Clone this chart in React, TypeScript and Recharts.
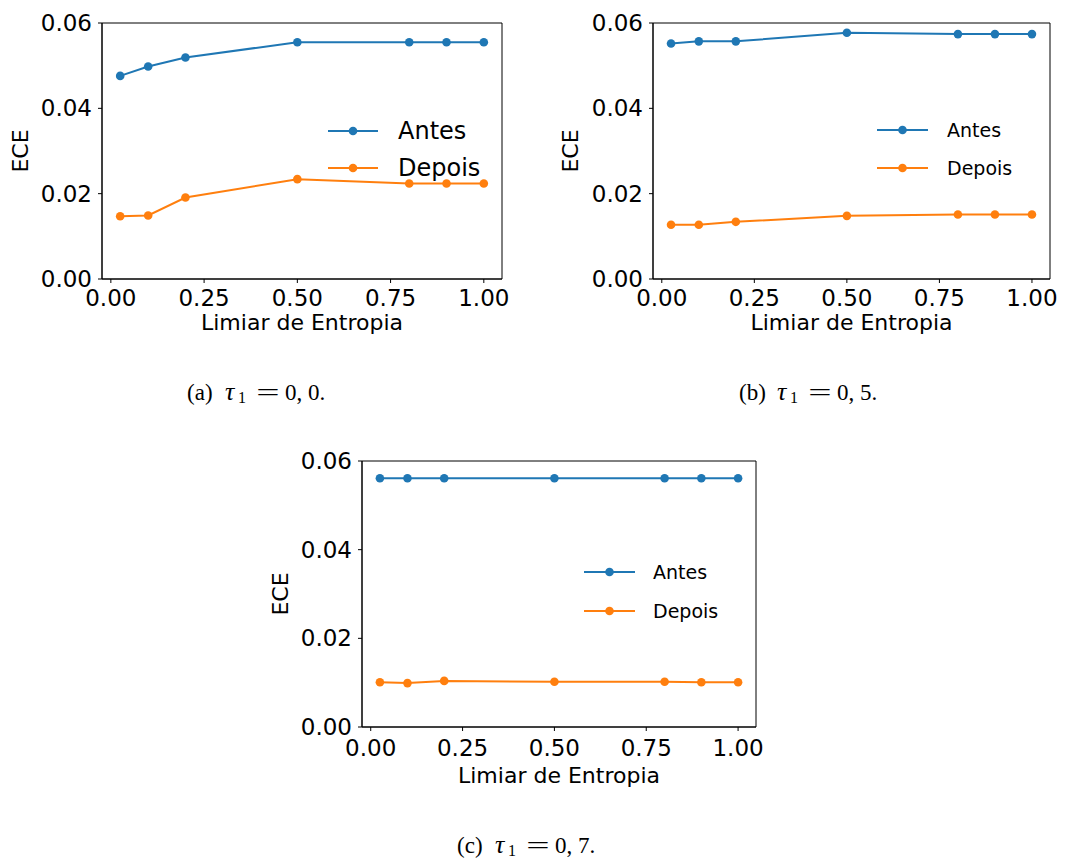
import {
    Legend,
    Line,
    LineChart,
    ReferenceArea,
    XAxis,
    YAxis,
} from 'recharts';

const thresholds = [0.025, 0.1, 0.2, 0.5, 0.8, 0.9, 1.0];

const antesA = [0.0476, 0.0498, 0.0519, 0.0555, 0.0555, 0.0555, 0.0555];
const depoisA = [0.0147, 0.0149, 0.0191, 0.0234, 0.0224, 0.0224, 0.0224];

const antesB = [0.0552, 0.0557, 0.0557, 0.0577, 0.0574, 0.0574, 0.0574];
const depoisB = [0.0127, 0.0127, 0.0134, 0.0148, 0.0151, 0.0151, 0.0151];

const antesC = [0.0561, 0.0561, 0.0561, 0.0561, 0.0561, 0.0561, 0.0561];
const depoisC = [0.0101, 0.0099, 0.0104, 0.0102, 0.0102, 0.0101, 0.0101];

const xTicks = [0, 0.25, 0.5, 0.75, 1.0];
const yTicks = [0, 0.02, 0.04, 0.06];
const xDomain: [number, number] = [-0.02375, 1.04875];
const yDomain: [number, number] = [0, 0.06];

const BLUE = '#1f77b4';
const ORANGE = '#ff7f0e';
const FONT = '"DejaVu Sans", sans-serif';

type LegendGeom = {
    left: number;
    top: number;
    fontSize: number;
    rowH: number;
    lineW: number;
    gap: number;
};

// eslint-disable-next-line @typescript-eslint/no-explicit-any
const makeLegend = (g: LegendGeom) => ({ payload }: any) => (
    <div style={{ fontFamily: FONT, fontSize: g.fontSize, color: '#000' }}>
        {(payload || []).map((e: any) => (
            <div
                key={e.value}
                style={{ display: 'flex', alignItems: 'center', height: g.rowH }}
            >
                <svg width={g.lineW} height={12} style={{ display: 'block' }}>
                    <line x1={0} y1={6} x2={g.lineW} y2={6} stroke={e.color} strokeWidth={2} />
                    <circle cx={g.lineW / 2} cy={6} r={4.3} fill={e.color} />
                </svg>
                <span style={{ marginLeft: g.gap, whiteSpace: 'nowrap' }}>{e.value}</span>
            </div>
        ))}
    </div>
);

type PanelProps = {
    left: number;
    top: number;
    width: number;
    height: number;
    margin: { top: number; right: number; bottom: number; left: number };
    xAxisH: number;
    xTickMargin: number;
    yLabelOffset: number;
    antes: number[];
    depois: number[];
    legend: LegendGeom;
};

const Panel = (p: PanelProps) => {
    const data = thresholds.map((x, i) => ({
        x,
        antes: p.antes[i],
        depois: p.depois[i],
    }));
    const tickStyle = { fill: '#000', fontSize: 23, fontFamily: FONT };

    return (
        <div style={{ position: 'absolute', left: p.left, top: p.top }}>
            <LineChart width={p.width} height={p.height} data={data} margin={p.margin}>
                <XAxis
                    type="number"
                    dataKey="x"
                    domain={xDomain}
                    ticks={xTicks}
                    interval={0}
                    allowDataOverflow
                    height={p.xAxisH}
                    tickSize={4}
                    tickMargin={p.xTickMargin}
                    tick={tickStyle}
                    stroke="#000"
                    tickFormatter={(v: number) => v.toFixed(2)}
                    label={{
                        value: 'Limiar de Entropia',
                        position: 'insideBottom',
                        offset: 0,
                        style: { fill: '#000', fontSize: 22, fontFamily: FONT },
                    }}
                />
                <YAxis
                    type="number"
                    domain={yDomain}
                    ticks={yTicks}
                    interval={0}
                    allowDataOverflow
                    width={92}
                    tickSize={4}
                    tickMargin={6}
                    tick={tickStyle}
                    stroke="#000"
                    tickFormatter={(v: number) => v.toFixed(2)}
                    label={{
                        value: 'ECE',
                        angle: -90,
                        position: 'insideLeft',
                        offset: p.yLabelOffset,
                        style: {
                            fill: '#000',
                            fontSize: 22,
                            fontFamily: FONT,
                            textAnchor: 'middle',
                        },
                    }}
                />
                <ReferenceArea
                    x1={xDomain[0]}
                    x2={xDomain[1]}
                    y1={yDomain[0]}
                    y2={yDomain[1]}
                    fill="none"
                    fillOpacity={0}
                    stroke="#000"
                    strokeWidth={1}
                />
                <Line
                    dataKey="antes"
                    name="Antes"
                    stroke={BLUE}
                    strokeWidth={2}
                    dot={{ r: 4.3, fill: BLUE, stroke: BLUE, strokeWidth: 0 }}
                    activeDot={false}
                    isAnimationActive={false}
                />
                <Line
                    dataKey="depois"
                    name="Depois"
                    stroke={ORANGE}
                    strokeWidth={2}
                    dot={{ r: 4.3, fill: ORANGE, stroke: ORANGE, strokeWidth: 0 }}
                    activeDot={false}
                    isAnimationActive={false}
                />
                <Legend
                    layout="vertical"
                    align="center"
                    verticalAlign="middle"
                    content={makeLegend(p.legend)}
                    wrapperStyle={{ left: p.legend.left, top: p.legend.top, width: 'auto' }}
                />
            </LineChart>
        </div>
    );
};

// caption laid out like the LaTeX subcaption: "(a) τ1 = 0, 0."
const Caption = ({ x, baseline, label, value }: { x: number; baseline: number; label: string; value: string }) => (
    <div
        style={{
            position: 'absolute',
            left: x,
            top: baseline - 19.3,
            height: 23,
            lineHeight: '23px',
            fontFamily: '"Liberation Serif", serif',
            fontSize: 23,
            color: '#000',
            whiteSpace: 'nowrap',
        }}
    >
        <span style={{ display: 'inline-block', width: 38 }}>({label})</span>
        <span style={{ display: 'inline-block', width: 13, fontSize: 26, lineHeight: 0 }}>
            <i>τ</i>
        </span>
        <span
            style={{
                display: 'inline-block',
                width: 16,
                fontSize: 16,
                lineHeight: 0,
                position: 'relative',
                top: 3,
            }}
        >
            1
        </span>
        <span
            style={{
                display: 'inline-block',
                width: 28,
                textAlign: 'center',
                transform: 'scaleX(1.8)',
                transformOrigin: '50% 50%',
            }}
        >
            =
        </span>
        <span style={{ marginLeft: 3 }}>{value}.</span>
    </div>
);

const App = () => (
    <div
        style={{
            position: 'absolute',
            left: 0,
            top: 0,
            width: 1074,
            height: 859,
            background: '#fff',
            overflow: 'hidden',
        }}
    >
        <Panel
            left={0}
            top={0}
            width={530}
            height={345}
            margin={{ top: 23, right: 28, bottom: 15, left: 10 }}
            xAxisH={51}
            xTickMargin={7}
            yLabelOffset={10.5}
            antes={antesA}
            depois={depoisA}
            legend={{ left: 328, top: 112.5, fontSize: 24, rowH: 37, lineW: 50, gap: 20 }}
        />
        <Panel
            left={540}
            top={0}
            width={534}
            height={345}
            margin={{ top: 23, right: 24, bottom: 15, left: 21 }}
            xAxisH={51}
            xTickMargin={7}
            yLabelOffset={9.5}
            antes={antesB}
            depois={depoisB}
            legend={{ left: 337, top: 111, fontSize: 19, rowH: 37.7, lineW: 51, gap: 19 }}
        />
        <Panel
            left={260}
            top={440}
            width={560}
            height={360}
            margin={{ top: 21, right: 64, bottom: 17, left: 10 }}
            xAxisH={56}
            xTickMargin={9}
            yLabelOffset={10.5}
            antes={antesC}
            depois={depoisC}
            legend={{ left: 324, top: 113, fontSize: 19, rowH: 38.7, lineW: 51, gap: 18 }}
        />
        <Caption x={187} baseline={400} label="a" value="0, 0" />
        <Caption x={739} baseline={400} label="b" value="0, 5" />
        <Caption x={457} baseline={853} label="c" value="0, 7" />
    </div>
);

export default App;
